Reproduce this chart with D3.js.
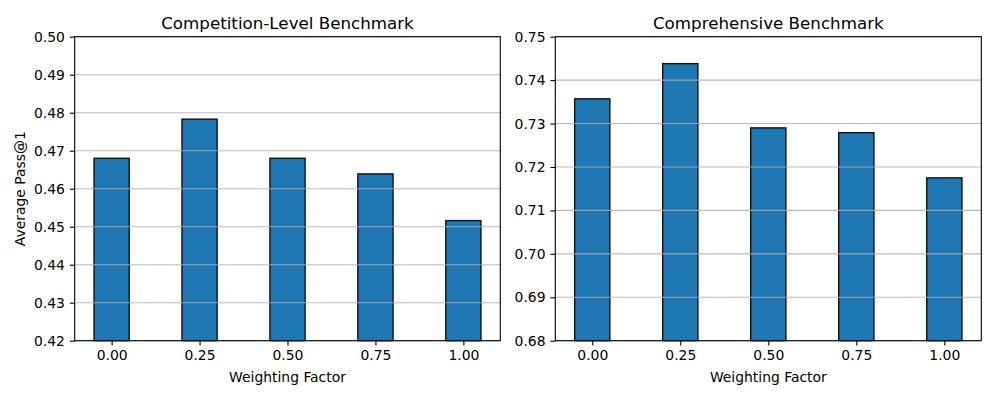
<!DOCTYPE html>
<html><head><meta charset="utf-8">
<script src="https://cdn.jsdelivr.net/npm/d3@7"></script>
<style>
body{margin:0;background:#fff;}
text{font-family:"DejaVu Sans",sans-serif;fill:#000;}
</style></head>
<body><svg id="c" width="996" height="399"></svg>
<script>
const categories = [0.00, 0.25, 0.50, 0.75, 1.00];
const tickLabels = ["0.00","0.25","0.50","0.75","1.00"];
const competitionValues = [0.468, 0.4783, 0.468, 0.4639, 0.4516];
const comprehensiveValues = [0.7357, 0.7438, 0.729, 0.7279, 0.7175];
const leftYTicks = [0.42,0.43,0.44,0.45,0.46,0.47,0.48,0.49,0.50];
const rightYTicks = [0.68,0.69,0.70,0.71,0.72,0.73,0.74,0.75];
const titles = ["Competition-Level Benchmark","Comprehensive Benchmark"];

const svg = d3.select("#c");
const plotTop = 36.7, plotBottom = 340.7;
const barW = 0.1;

function panel(x0, x1, values, yDomain, yTicks, title, ylabel){
  const g = svg.append("g");
  const x = d3.scaleLinear().domain([-0.105, 1.105]).range([x0, x1]);
  const y = d3.scaleLinear().domain(yDomain).range([plotBottom, plotTop]);
  g.selectAll("rect.bar").data(values).join("rect")
    .attr("x", (d,i)=>x(categories[i]-barW/2))
    .attr("width", (d,i)=>x(categories[i]+barW/2)-x(categories[i]-barW/2))
    .attr("y", d=>y(d))
    .attr("height", d=>y(yDomain[0])-y(d))
    .attr("fill","#1f77b4").attr("stroke","#111").attr("stroke-width",1.4);
  g.selectAll("line.grid").data(yTicks).join("line")
    .attr("x1",x0).attr("x2",x1).attr("y1",d=>y(d)).attr("y2",d=>y(d))
    .attr("stroke","#b0b0b0").attr("stroke-width",1.1).attr("opacity",0.85);
  const ya = d3.axisLeft(y).tickValues(yTicks).tickFormat(d3.format(".2f")).tickSize(4.9).tickPadding(4.9);
  const ga = g.append("g").attr("transform",`translate(${x0},0)`).call(ya);
  const xa = d3.axisBottom(x).tickValues(categories).tickFormat((d,i)=>tickLabels[i]).tickSize(4.9).tickPadding(4.9);
  const gx = g.append("g").attr("transform",`translate(0,${plotBottom})`).call(xa);
  [ga,gx].forEach(a=>{
    a.select(".domain").remove();
    a.selectAll("line").attr("stroke","#000").attr("stroke-width",1.1);
    a.selectAll("text").style("font-family","DejaVu Sans").style("font-size","13.9px").attr("fill","#000");
  });
  g.append("rect").attr("x",x0).attr("y",plotTop).attr("width",x1-x0).attr("height",plotBottom-plotTop)
    .attr("fill","none").attr("stroke","#000").attr("stroke-width",1.1);
  g.append("text").attr("x",(x0+x1)/2).attr("y",plotTop-8).attr("text-anchor","middle")
    .style("font-size","16.7px").text(title);
  g.append("text").attr("x",(x0+x1)/2).attr("y",382).attr("text-anchor","middle")
    .style("font-size","13.9px").text("Weighting Factor");
  if (ylabel){
    g.append("text").attr("transform",`translate(25,${(plotTop+plotBottom)/2}) rotate(-90)`)
      .attr("text-anchor","middle").style("font-size","13.9px").text(ylabel);
  }
}
panel(74.7, 500.3, competitionValues, [0.42,0.50], leftYTicks, titles[0], "Average Pass@1");
panel(555.3, 981.3, comprehensiveValues, [0.68,0.75], rightYTicks, titles[1], null);
</script></body></html>
